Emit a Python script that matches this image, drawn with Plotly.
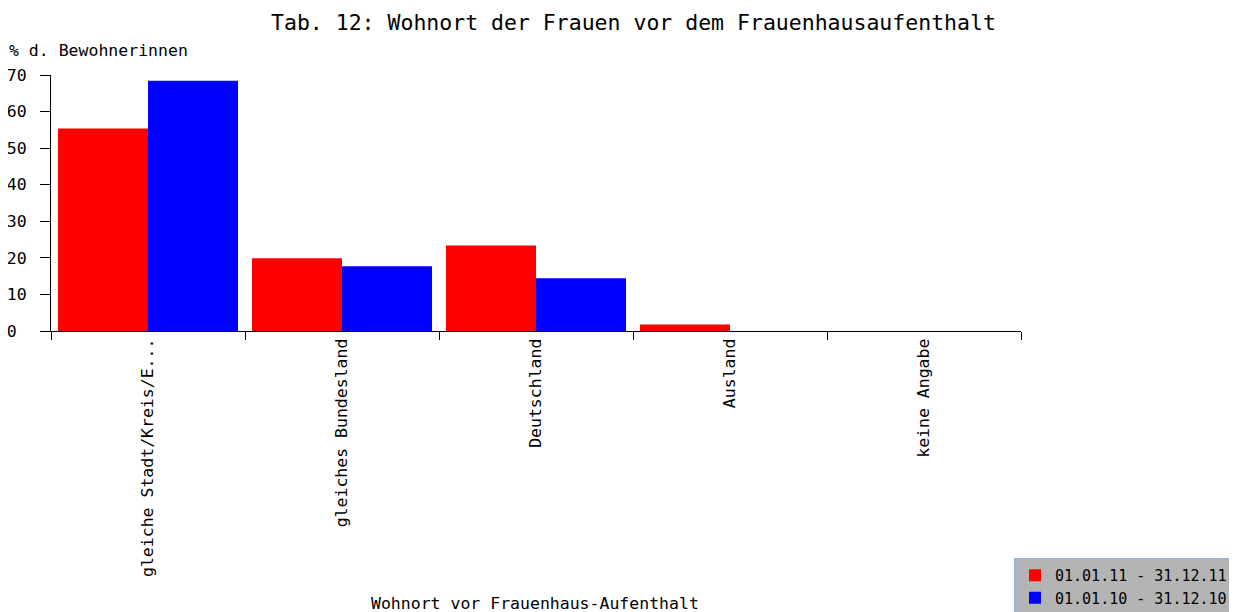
import plotly.graph_objects as go

categories = ["gleiche Stadt/Kreis/E...", "gleiches Bundesland", "Deutschland", "Ausland", "keine Angabe"]
series_2011 = [55.4, 19.9, 23.4, 1.8, 0]
series_2010 = [68.4, 17.7, 14.4, 0, 0]
series_names = ["01.01.11 - 31.12.11", "01.01.10 - 31.12.10"]
y_ticks = [0, 10, 20, 30, 40, 50, 60, 70]
# tick labels are left-aligned in the reference: pad with a non-breaking space
y_tick_text = [str(v).ljust(2, "\u00a0") for v in y_ticks]

FONT = "DejaVu Sans Mono"
FS = 16.5

fig = go.Figure()
fig.add_trace(go.Bar(x=categories, y=series_2011, name=series_names[0],
                     marker=dict(color="#ff0000", line=dict(width=0))))
fig.add_trace(go.Bar(x=categories, y=series_2010, name=series_names[1],
                     marker=dict(color="#0000ff", line=dict(width=0))))

# the page adds an 8px body margin; work in page pixels minus that offset
OFF = 8
W, H = 1237 - OFF, 612 - OFF
L, R, T, B = 51 - OFF, 1021 - OFF, 75 - OFF, 331 - OFF


def px(xp):
    return (xp - OFF - L) / (R - L)


def py(yp):
    return (B - (yp - OFF)) / (B - T)


fig.update_layout(
    width=W, height=H,
    margin=dict(l=L, r=W - R, t=T, b=H - B, pad=0, autoexpand=False),
    paper_bgcolor="white", plot_bgcolor="white",
    barmode="group", bargap=0.072, bargroupgap=0,
    font=dict(family=FONT, size=FS, color="black"),
    showlegend=True,
    legend=dict(x=px(1014), y=py(558), xanchor="left", yanchor="top",
                bgcolor="#b4b4b4", bordercolor="#8fb0e0", borderwidth=1,
                font=dict(family=FONT, size=15, color="black"),
                itemwidth=30, tracegroupgap=0),
    xaxis=dict(type="category", showline=True, linecolor="black", linewidth=1,
               ticks="outside", tickson="boundaries", ticklen=8, tickcolor="black",
               tickangle=-90, showgrid=False, automargin=False,
               tickfont=dict(family=FONT, size=FS)),
    yaxis=dict(range=[0, 70], tickvals=y_ticks, ticktext=y_tick_text,
               showline=True, linecolor="black", linewidth=1,
               ticks="outside", ticklen=10, tickcolor="black", showgrid=False, zeroline=False,
               automargin=False, ticklabelstandoff=10,
               tickfont=dict(family=FONT, size=FS)),
    annotations=[
        dict(text="Tab. 12: Wohnort der Frauen vor dem Frauenhausaufenthalt", xref="paper", yref="paper",
             x=px(633), y=py(22), xanchor="center", yanchor="middle",
             showarrow=False, font=dict(family=FONT, size=21.5)),
        dict(text="% d. Bewohnerinnen", xref="paper", yref="paper",
             x=px(7), y=py(50), xanchor="left", yanchor="middle",
             showarrow=False, font=dict(family=FONT, size=FS)),
        dict(text="Wohnort vor Frauenhaus-Aufenthalt", xref="paper", yref="paper",
             x=px(535), y=py(603), xanchor="center", yanchor="middle",
             showarrow=False, font=dict(family=FONT, size=FS)),
    ],
)

fig.write_html("out.html")
